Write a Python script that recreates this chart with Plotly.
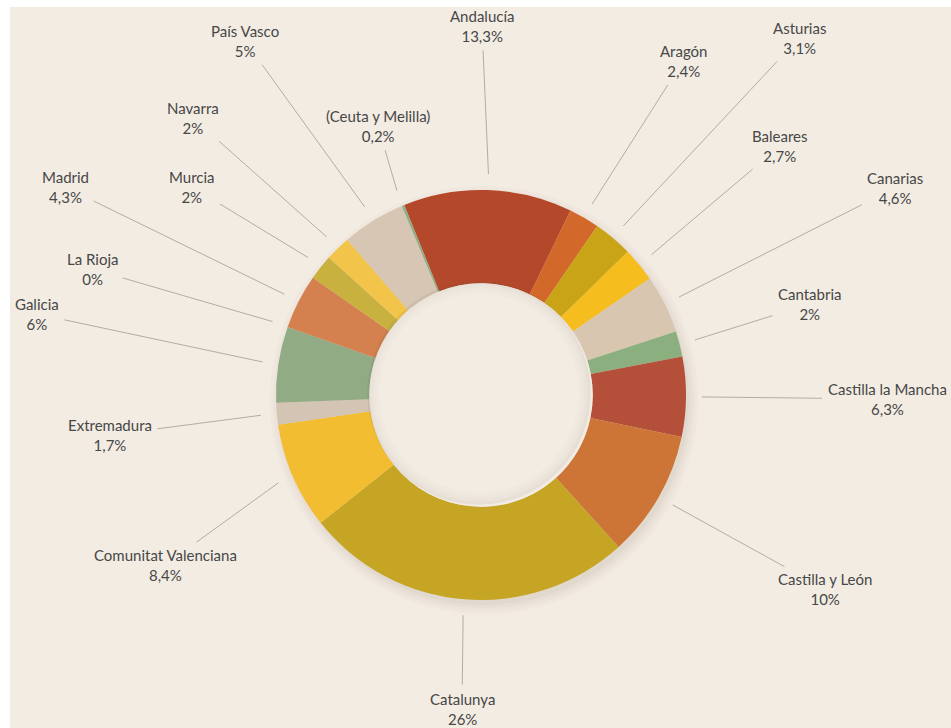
import math
import plotly.graph_objects as go

# ---------------- data ----------------
regions = ["Andalucía", "Aragón", "Asturias", "Baleares", "Canarias", "Cantabria",
           "Castilla la Mancha", "Castilla y León", "Catalunya", "Comunitat Valenciana",
           "Extremadura", "Galicia", "La Rioja", "Madrid", "Murcia", "Navarra",
           "País Vasco", "(Ceuta y Melilla)"]
shares = [13.3, 2.4, 3.1, 2.7, 4.6, 2, 6.3, 10, 26, 8.4, 1.7, 6, 0, 4.3, 2, 2, 5, 0.2]
share_labels = ["13,3%", "2,4%", "3,1%", "2,7%", "4,6%", "2%", "6,3%", "10%", "26%",
                "8,4%", "1,7%", "6%", "0%", "4,3%", "2%", "2%", "5%", "0,2%"]

# ---------------- styles / layout ----------------
colors = ["#b4482b", "#d2682a", "#c8a416", "#f6bd1f", "#d8c6b0", "#8caf80",
          "#b4503a", "#cd7536", "#c5a523", "#f3bd32", "#d4c4b3", "#91ab84",
          "#b4482b", "#d4814f", "#c9b140", "#f2c44a", "#d7c6b4", "#90ad85"]
label_pos = [(482, 26), (683, 61), (799, 38), (780, 146), (895, 188), (810, 304),
             (887, 399), (825, 589), (462, 709), (165, 565), (110, 435), (37, 314),
             (92, 269), (65, 187), (192, 187), (193, 118), (245, 41), (378, 126)]

W, H = 951, 728
CX, CY, R = 481, 395, 205
HOLE = 0.545
ROT = -22
TIP_R = 221
BG = "#f3ece3"

fig = go.Figure()

fig.add_trace(go.Pie(
    labels=regions, values=shares, sort=False, direction="clockwise", rotation=ROT,
    hole=HOLE, textinfo="none", hoverinfo="label+percent",
    marker=dict(colors=colors, line=dict(width=0)),
    domain=dict(x=[(CX - R) / W, (CX + R) / W], y=[1 - (CY + R) / H, 1 - (CY - R) / H]),
    showlegend=False,
))

# leader lines + labels, tip computed from slice mid-angle
total = sum(shares)
cum = 0.0
annotations = []
for name, v, txt, (lx, ly) in zip(regions, shares, share_labels, label_pos):
    mid = cum + v / 2.0
    cum += v
    ang = math.radians(ROT + 360.0 * mid / total)
    tx = CX + TIP_R * math.sin(ang)
    ty = CY - TIP_R * math.cos(ang)
    annotations.append(dict(
        x=tx, y=ty, xref="x", yref="y", ax=lx, ay=ly, axref="x", ayref="y",
        text=f"{name}<br>{txt}", showarrow=True, arrowhead=0, arrowwidth=0.8,
        arrowcolor="#a09c96", startstandoff=4, align="center",
        font=dict(family="Lato", size=15, color="#474747"),
    ))

shapes = [dict(type="rect", xref="x", yref="y", x0=10, y0=7, x1=W, y1=H,
               fillcolor=BG, line=dict(width=0), layer="below")]
# soft drop shadow behind ring
for i, a in enumerate([0.02, 0.025, 0.03, 0.04]):
    rr = R + 9 - i * 3
    shapes.append(dict(type="circle", xref="x", yref="y",
                       x0=CX + 3 - rr, x1=CX + 3 + rr, y0=CY + 5 - rr, y1=CY + 5 + rr,
                       fillcolor=f"rgba(90,70,50,{a})", line=dict(width=0), layer="below"))
# fill the hole with background, then inner shadow
rin = R * HOLE
shapes.append(dict(type="circle", xref="x", yref="y",
                   x0=CX - rin, x1=CX + rin, y0=CY - rin, y1=CY + rin,
                   fillcolor=BG, line=dict(width=0), layer="above"))
for i, a in enumerate([0.08, 0.05, 0.03, 0.015]):
    rr = rin - 1.5 - i * 3
    shapes.append(dict(type="circle", xref="x", yref="y",
                       x0=CX - 2 - rr, x1=CX - 2 + rr, y0=CY - 2 - rr, y1=CY - 2 + rr,
                       line=dict(width=3, color=f"rgba(90,80,70,{a})"), layer="above"))

fig.update_layout(
    width=W, height=H, margin=dict(l=0, r=0, t=0, b=0),
    paper_bgcolor="white", plot_bgcolor="rgba(0,0,0,0)",
    xaxis=dict(range=[0, W], visible=False, fixedrange=True),
    yaxis=dict(range=[H, 0], visible=False, fixedrange=True),
    annotations=annotations, shapes=shapes, showlegend=False,
)

fig.write_html("out.html")
